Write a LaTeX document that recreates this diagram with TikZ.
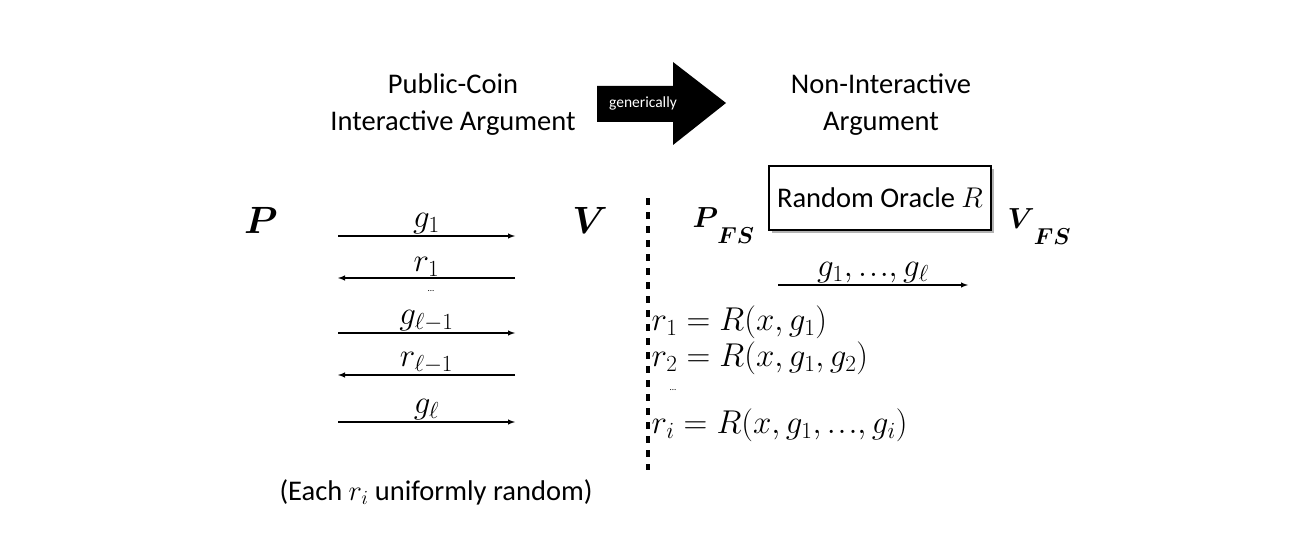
\RequirePackage{fix-cm}
\documentclass[tikz,border=0pt]{standalone}
\usepackage{amsmath}
\usepackage{bm}
\usepackage{fontspec}
\setmainfont{Carlito}
\usetikzlibrary{arrows,positioning,shadows}
\newcommand{\tdots}{{.\mkern1mu.\mkern1mu.}}
\newcommand{\fsname}[1]{$\bm{#1}$\kern-1pt\raisebox{-16pt}{\fontsize{23}{23}\selectfont$\bm{FS}$}}

\begin{document}
\begin{tikzpicture}[x=1pt,y=-1pt,-latex,line width=1.4pt,
    title/.style={font=\fontsize{28.5}{37}\selectfont,align=center,inner sep=0pt},
    party/.style={font=\fontsize{38}{40}\selectfont,inner sep=0pt},
    fsparty/.style={font=\fontsize{29}{30}\selectfont,inner sep=0pt,anchor=base west},
    msg/.style={font=\fontsize{33}{34}\selectfont,above,inner sep=1pt},
    eqn/.style={font=\fontsize{33}{34}\selectfont,right,inner sep=0pt},
    oracle/.style={draw,line width=1.6pt,fill=white,minimum width=222pt,minimum height=64pt,
      drop shadow={shadow xshift=3pt,shadow yshift=-3pt,opacity=.6},font=\fontsize{28.5}{30}\selectfont}]
  \useasboundingbox (0,0) rectangle (1316,540);

  % headline
  \node[title] (pc)  at (453,105) {Public-Coin\\Interactive Argument};
  \node[title] (ni)  at (881,105) {Non-Interactive\\Argument};
  \fill (597,86) -- (673,86) -- (673,62) -- (726,103) -- (673,145) -- (673,122) -- (597,122) -- cycle;
  \node[text=white,font=\fontsize{15.5}{17}\selectfont,inner sep=0pt] (gen) at (643,103) {generically};

  % interactive protocol
  \node[party] (P) at (261,220) {$\bm{P}$};
  \node[party] (V) at (590,220) {$\bm{V}$};
  \foreach \n/\y in {1/236,2/278,3/333,4/375,5/422}{
    \coordinate (a\n) at (338,\y);
    \coordinate (b\n) at (515,\y);
  }
  \path (a1) edge node[msg] {$g_1$} (b1)
        (b2) edge node[msg] {$r_1$} (a2)
        (a3) edge node[msg] {$g_{\ell-1}$} (b3)
        (b4) edge node[msg] {$r_{\ell-1}$} (a4)
        (a5) edge node[msg] {$g_{\ell}$} (b5);
  \node[font=\fontsize{9}{10}\selectfont] (dl) at (431,291) {...};
  \node[font=\fontsize{28.5}{30}\selectfont] (each) at (436,492) {(Each $r_i$ uniformly random)};

  % separator
  \coordinate (s1) at (648,198);
  \coordinate (s2) at (648,470);
  \draw[-,line width=3.4pt,dash pattern=on 7pt off 7pt] (s1) -- (s2);

  % Fiat-Shamir
  \node[oracle] (ro) at (880,198) {Random Oracle $R$};
  \node[fsparty] (PF) at (692,227) {\fsname{P}};
  \node[fsparty] (VF) at (1007,228) {\fsname{V}};
  \coordinate (c1) at (778,285);
  \coordinate (c2) at (968,285);
  \path (c1) edge node[msg] {$g_1,\tdots,g_\ell$} (c2);
  \node[eqn] (e1) at (651,322) {$r_1 = R(x,g_1)$};
  \node[eqn] (e2) at (651,358) {$r_2 = R(x,g_1,g_2)$};
  \node[font=\fontsize{9}{10}\selectfont] (dr) at (673,390) {...};
  \node[eqn] (e3) at (651,425) {$r_i = R(x,g_1,\tdots,g_i)$};
\end{tikzpicture}
\end{document}
